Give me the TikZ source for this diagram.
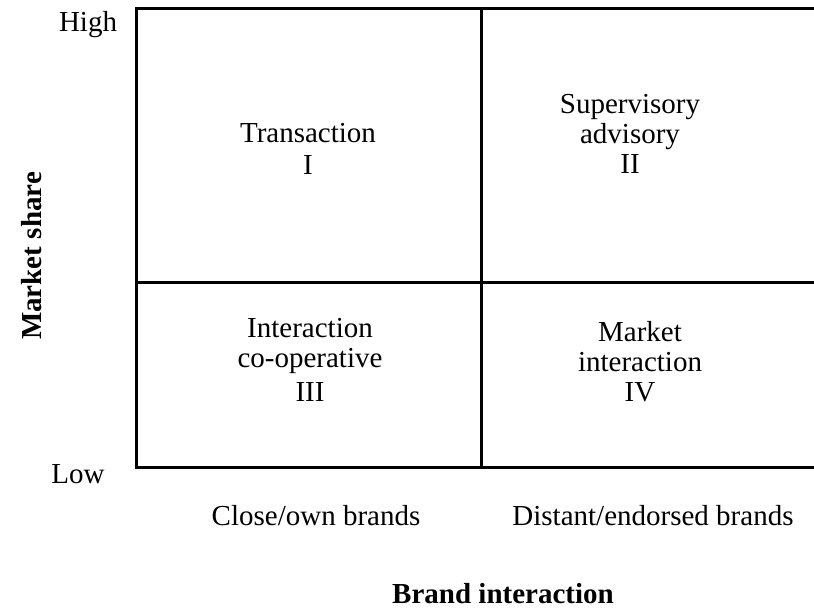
\documentclass[tikz,border=0pt]{standalone}
\usepackage{fontspec}
\setmainfont{Liberation Serif}
\usetikzlibrary{positioning}

\tikzset{
  gridline/.style={line width=1.5pt,line join=miter},
  quadtext/.style={align=center,font=\fontsize{14.5}{15}\selectfont},
  ticktext/.style={anchor=base,font=\fontsize{14.5}{15}\selectfont},
  axistitle/.style={anchor=base,font=\fontsize{14.5}{15}\selectfont\bfseries},
}

\begin{document}
\begin{tikzpicture}[x=0.5pt,y=-0.5pt]
\useasboundingbox (0,0) rectangle (814,609);
% Grid corners
\coordinate (tl) at (136,9);
\coordinate (tr) at (814,9);
\coordinate (bl) at (136,467);
\coordinate (br) at (814,467);
\coordinate (tm) at (481,9);
\coordinate (bm) at (481,467);
\coordinate (ml) at (136,283);
\coordinate (mr) at (814,283);

% Frame and dividers
\draw[gridline] (tr) -- (tl) -- (bl) -- (br);
\draw[gridline] (tm) -- (bm);
\draw[gridline] (ml) -- (mr);

% Quadrants
\node[quadtext] (qone) at (308,148.5) {Transaction\\[1pt]I};
\node[quadtext] (qtwo) at (630,134) {Supervisory\\advisory\\II};
\node[quadtext] (qthree) at (310,359.5) {Interaction\\co-operative\\[2pt]III};
\node[quadtext] (qfour) at (640,361.5) {Market\\interaction\\IV};

% Axis labels
\node[ticktext] (high) at (88,32) {High};
\node[ticktext] (low) at (78,483) {Low};
\node[ticktext] (close) at (316,525) {Close/own brands};
\node[ticktext] (distant) at (653,525) {Distant/endorsed brands};
\node[axistitle] (brand) at (503,603) {Brand interaction};
\node[axistitle,rotate=90] (share) at (41,256) {Market share};
\end{tikzpicture}
\end{document}
